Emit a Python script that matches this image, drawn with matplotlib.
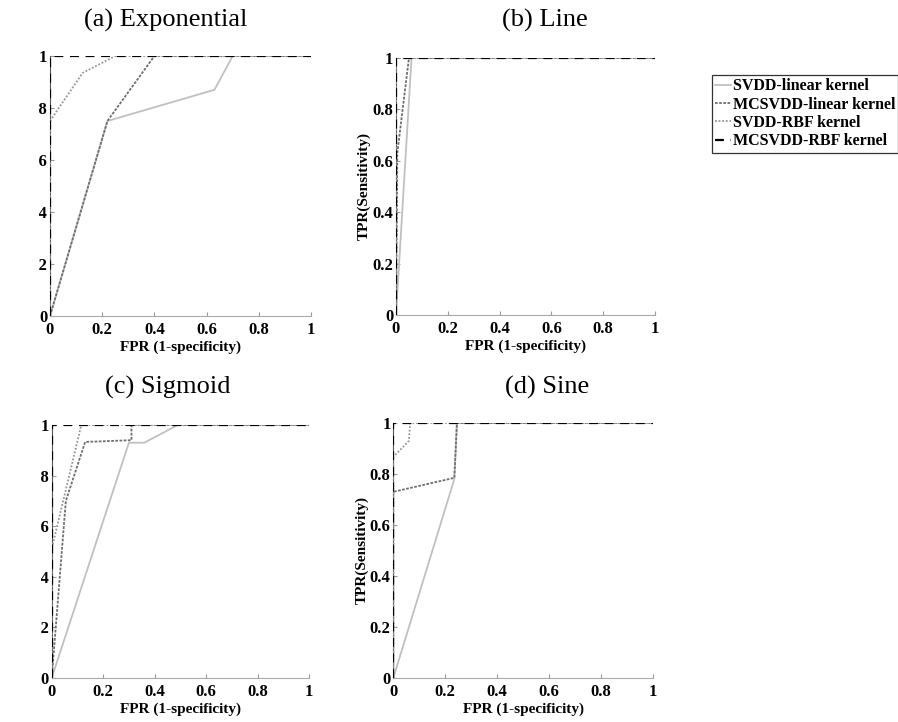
import matplotlib
matplotlib.use("Agg")
import matplotlib.pyplot as plt
from matplotlib.patches import Rectangle

plt.rcParams['font.family'] = ['Liberation Serif', 'DejaVu Serif']

titles = ["(a) Exponential", "(b) Line", "(c) Sigmoid", "(d) Sine"]
series_names = ["SVDD-linear kernel", "MCSVDD-linear kernel", "SVDD-RBF kernel", "MCSVDD-RBF kernel"]

# (a) Exponential
exp_svdd_lin_fpr = [0, 0.22, 0.63, 0.70, 1]
exp_svdd_lin_tpr = [0, 0.75, 0.87, 1, 1]
exp_mc_lin_fpr = [0, 0.22, 0.40, 1]
exp_mc_lin_tpr = [0, 0.75, 1, 1]
exp_svdd_rbf_fpr = [0, 0, 0.125, 0.25, 1]
exp_svdd_rbf_tpr = [0, 0.75, 0.935, 1, 1]
exp_mc_rbf_fpr = [0, 0, 1]
exp_mc_rbf_tpr = [0, 1, 1]

# (b) Line
line_svdd_lin_fpr = [0, 0.06, 1]
line_svdd_lin_tpr = [0, 1, 1]
line_mc_lin_fpr = [0, 0.005, 0.05, 1]
line_mc_lin_tpr = [0, 0.63, 1, 1]
line_svdd_rbf_fpr = [0, 0, 1]
line_svdd_rbf_tpr = [0, 1, 1]
line_mc_rbf_fpr = [0, 0, 1]
line_mc_rbf_tpr = [0, 1, 1]

# (c) Sigmoid
sig_svdd_lin_fpr = [0, 0.30, 0.36, 0.49, 1]
sig_svdd_lin_tpr = [0, 0.93, 0.93, 1, 1]
sig_mc_lin_fpr = [0, 0.055, 0.13, 0.31, 0.31, 1]
sig_mc_lin_tpr = [0, 0.70, 0.933, 0.94, 1, 1]
sig_svdd_rbf_fpr = [0, 0, 0.115, 1]
sig_svdd_rbf_tpr = [0, 0.51, 1, 1]
sig_mc_rbf_fpr = [0, 0, 1]
sig_mc_rbf_tpr = [0, 1, 1]

# (d) Sine
sine_svdd_lin_fpr = [0, 0.235, 0.245, 1]
sine_svdd_lin_tpr = [0, 0.78, 1, 1]
sine_mc_lin_fpr = [0, 0, 0.235, 0.245, 1]
sine_mc_lin_tpr = [0, 0.73, 0.785, 1, 1]
sine_svdd_rbf_fpr = [0, 0, 0.06, 0.065, 1]
sine_svdd_rbf_tpr = [0, 0.867, 0.93, 1, 1]
sine_mc_rbf_fpr = [0, 0, 1]
sine_mc_rbf_tpr = [0, 1, 1]

panels = [
    [(exp_svdd_lin_fpr, exp_svdd_lin_tpr), (exp_mc_lin_fpr, exp_mc_lin_tpr),
     (exp_svdd_rbf_fpr, exp_svdd_rbf_tpr), (exp_mc_rbf_fpr, exp_mc_rbf_tpr)],
    [(line_svdd_lin_fpr, line_svdd_lin_tpr), (line_mc_lin_fpr, line_mc_lin_tpr),
     (line_svdd_rbf_fpr, line_svdd_rbf_tpr), (line_mc_rbf_fpr, line_mc_rbf_tpr)],
    [(sig_svdd_lin_fpr, sig_svdd_lin_tpr), (sig_mc_lin_fpr, sig_mc_lin_tpr),
     (sig_svdd_rbf_fpr, sig_svdd_rbf_tpr), (sig_mc_rbf_fpr, sig_mc_rbf_tpr)],
    [(sine_svdd_lin_fpr, sine_svdd_lin_tpr), (sine_mc_lin_fpr, sine_mc_lin_tpr),
     (sine_svdd_rbf_fpr, sine_svdd_rbf_tpr), (sine_mc_rbf_fpr, sine_mc_rbf_tpr)],
]

styles = [
    dict(color='#c0c0c0', lw=1.3, ls='-'),
    dict(color='#6e6e6e', lw=1.3, ls=(0, (1.5, 0.8))),
    dict(color='#959595', lw=1.3, ls=(0, (1, 1))),
    dict(color='black', lw=1.6, ls=(0, (4, 3))),
]

W, H = 898, 722
fig = plt.figure(figsize=(W / 100, H / 100), dpi=100)

boxes = [(50, 311, 56, 316), (396, 655, 58, 315), (51.7, 309, 425, 678), (393.3, 653, 423, 678)]
title_pos = [(166, 20), (545, 20), (168, 387), (547, 387)]

handles = None
for i, (l, r, t, b) in enumerate(boxes):
    ax = fig.add_axes([l / W, 1 - b / H, (r - l) / W, (b - t) / H])
    hs = []
    for j in range(4):
        fpr, tpr = panels[i][j]
        h, = ax.plot(fpr, tpr, label=series_names[j], zorder=2 + j, **styles[j])
        hs.append(h)
    handles = hs
    ax.set_xlim(0, 1)
    ax.set_ylim(0, 1)
    ax.set_xticks([0, 0.2, 0.4, 0.6, 0.8, 1])
    ax.set_yticks([0, 0.2, 0.4, 0.6, 0.8, 1])
    ax.set_xticklabels(['0', '0.2', '0.4', '0.6', '0.8', '1'])
    ax.set_yticklabels(['0', '0.2', '0.4', '0.6', '0.8', '1'])
    for lbl in ax.get_xticklabels() + ax.get_yticklabels():
        lbl.set_fontweight('bold')
        lbl.set_fontsize(12)
    ax.tick_params(direction='in', length=3, width=0.8, color='#999999')
    ax.tick_params(axis='x', pad=4)
    ax.tick_params(axis='y', pad=2)
    ax.spines['top'].set_visible(False)
    ax.spines['right'].set_visible(False)
    ax.spines['bottom'].set_color('#aaaaaa')
    ax.spines['left'].set_color('#555555')
    ax.set_xlabel('FPR (1-specificity)', fontsize=11, fontweight='bold', labelpad=2)
    ax.set_ylabel('TPR(Sensitivity)', fontsize=11, fontweight='bold', labelpad=1)
    tx, ty = title_pos[i]
    fig.text(tx / W, 1 - ty / H, titles[i], ha='center', va='center', fontsize=19)

leg = fig.legend(handles, series_names, loc='upper left',
                 bbox_to_anchor=(712 / W, 1 - 75 / H),
                 prop=dict(family='Liberation Serif', weight='bold', size=11.5),
                 frameon=True, fancybox=False, edgecolor='black',
                 handlelength=1.0, handletextpad=0.1, borderpad=0.2,
                 labelspacing=0.15, borderaxespad=0)
leg.get_frame().set_linewidth(0.9)

# the reference image is cropped on its left edge
fig.patches.append(Rectangle((0, 0.5), 39 / W, 0.5, transform=fig.transFigure,
                             facecolor='white', edgecolor='none', zorder=100))
fig.patches.append(Rectangle((0, 0), 41 / W, 0.5, transform=fig.transFigure,
                             facecolor='white', edgecolor='none', zorder=100))

fig.savefig('out.png', dpi=100)
